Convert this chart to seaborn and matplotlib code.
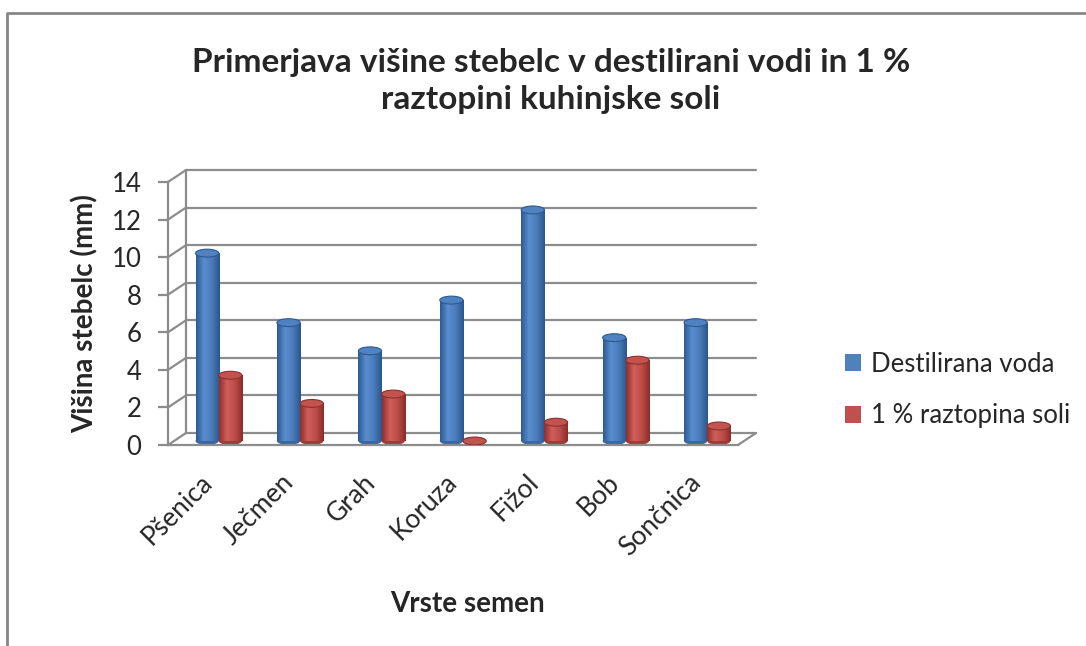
import numpy as np
import pandas as pd
import seaborn as sns
import matplotlib.pyplot as plt
from matplotlib import transforms
from matplotlib.patches import Ellipse
from matplotlib.lines import Line2D
from matplotlib.colors import LinearSegmentedColormap, to_rgb

# podatki
vrste = ['Pšenica', 'Ječmen', 'Grah', 'Koruza', 'Fižol', 'Bob', 'Sončnica']
destilirana = [10.0, 6.3, 4.8, 7.5, 12.3, 5.5, 6.3]
raztopina = [3.5, 2.0, 2.5, 0.0, 1.0, 4.3, 0.8]
serije = ['Destilirana voda', '1 % raztopina soli']
y_ticks = [0, 2, 4, 6, 8, 10, 12, 14]

df = pd.DataFrame({
    'vrsta': vrste * 2,
    'serija': [serije[0]] * len(vrste) + [serije[1]] * len(vrste),
    'visina': destilirana + raztopina,
})

modra = '#4F81BD'
rdeca = '#C0504D'
siva = '#8C8C8C'

sns.set_style('white')
plt.rcParams['font.family'] = ['Lato', 'DejaVu Sans']

W, H = 1086, 646
fig = plt.figure(figsize=(W / 100, H / 100), dpi=100)
# sprednja ravnina grafa
ax = fig.add_axes([168 / W, 1 - 445 / H, (738 - 168) / W, (445 - 182) / H])

sns.barplot(data=df, x='vrsta', y='visina', hue='serija', palette=[modra, rdeca],
            width=0.57, saturation=1, ax=ax, edgecolor='none')
ax.set_xlim(-0.5, len(vrste) - 0.5)
ax.set_ylim(0, 14)

# 3D izgled: zadnja stena zamaknjena
dx, dy = 18, 12
zadaj = transforms.offset_copy(ax.transData, fig=fig, x=dx, y=dy, units='dots')
sredina = transforms.offset_copy(ax.transData, fig=fig, x=10, y=4, units='dots')

x0, x1 = ax.get_xlim()
for t in y_ticks:
    ax.plot([x0, x1], [t, t], transform=zadaj, color=siva, lw=1.6, clip_on=False, zorder=0)
    ax.annotate('', xy=(x0, t), xytext=(dx, dy), textcoords='offset pixels',
                arrowprops=dict(arrowstyle='-', color=siva, lw=1.6, shrinkA=0, shrinkB=0),
                annotation_clip=False, zorder=0)
ax.plot([x0, x0], [0, 14], transform=zadaj, color=siva, lw=1.6, clip_on=False, zorder=0)
ax.annotate('', xy=(x1, 0), xytext=(dx, dy), textcoords='offset pixels',
            arrowprops=dict(arrowstyle='-', color=siva, lw=1.6, shrinkA=0, shrinkB=0),
            annotation_clip=False, zorder=0)

# valji
cmaps = {
    modra: LinearSegmentedColormap.from_list('m', ['#2C5A92', '#5B8ED0', '#4A7BBA', '#2A568C']),
    rdeca: LinearSegmentedColormap.from_list('r', ['#8E2F2C', '#D05F5B', '#BC4C49', '#8A2C29']),
}
grad = np.linspace(0, 1, 64).reshape(1, -1)
bars = [p for p in ax.patches if p.get_width() > 0]
for p in bars:
    barva = modra if np.allclose(p.get_facecolor()[:3], to_rgb(modra)) else rdeca
    p.set_transform(sredina)
    x, w, h = p.get_x(), p.get_width(), p.get_height()
    cx = x + w / 2
    ax.add_patch(Ellipse((cx, 0), w, 0.42, transform=sredina, facecolor=cmaps[barva](0.85),
                         edgecolor='none', zorder=1.5))
    if h > 0:
        im = ax.imshow(grad, extent=[x, x + w, 0, h], cmap=cmaps[barva], aspect='auto',
                       transform=sredina, zorder=2.5)
        im.set_clip_path(p)
    ax.add_patch(Ellipse((cx, h), w, 0.42, transform=sredina, facecolor=cmaps[barva](0.55),
                         edgecolor=cmaps[barva](0.0), lw=0.8, zorder=3))
ax.set_xlim(x0, x1)
ax.set_ylim(0, 14)

sns.despine(ax=ax, top=True, right=True)
for s in ['left', 'bottom']:
    ax.spines[s].set_color(siva)
    ax.spines[s].set_linewidth(1.6)
ax.set_yticks(y_ticks)
ax.tick_params(axis='y', length=7, width=1.6, color=siva, pad=12, labelsize=18.5, left=True)
ax.tick_params(axis='x', length=0, pad=24, labelsize=19)
plt.setp(ax.get_xticklabels(), rotation=45, ha='right', va='center', rotation_mode='anchor')

ax.set_xlabel('Vrste semen', fontsize=20, fontweight='bold')
ax.xaxis.set_label_coords(467 / W, 1 - 604 / H, transform=fig.transFigure)
ax.xaxis.label.set_va('center')
ax.set_ylabel('')
fig.text(85 / W, 1 - 314 / H, 'Višina stebelc (mm)', rotation=90, ha='center', va='center',
         fontsize=20, fontweight='bold')

handles, labels = ax.get_legend_handles_labels()
ax.legend(handles, labels, loc='center left', bbox_to_anchor=(822 / W, 1 - 390 / H),
          bbox_transform=fig.transFigure, frameon=False, fontsize=18.5,
          handlelength=0.62, handleheight=0.62, handletextpad=0.4, labelspacing=1.05)

fig.text(551 / W, 1 - 81 / H, 'Primerjava višine stebelc v destilirani vodi in 1 %\nraztopini kuhinjske soli',
         ha='center', va='center', fontsize=24, fontweight='bold', linespacing=1.3)

# okvir
fig.add_artist(Line2D([7 / W, 7 / W, 1], [0, 1 - 13 / H, 1 - 13 / H], transform=fig.transFigure,
                      color='#868686', lw=2))

fig.savefig('out.png', dpi=100)
